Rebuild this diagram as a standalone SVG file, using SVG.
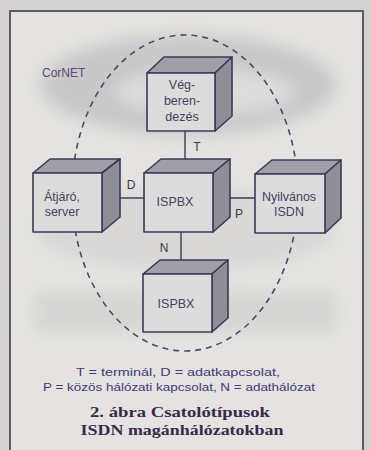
<svg xmlns="http://www.w3.org/2000/svg" width="371" height="450" viewBox="0 0 371 450">
<defs>
<style>
.front{fill:#dddcdc;stroke:#3c3a58;stroke-width:1.6;stroke-linejoin:round}
.top{fill:#a09ea6;stroke:#3c3a58;stroke-width:1.6;stroke-linejoin:round}
.side{fill:#8f8d96;stroke:#3c3a58;stroke-width:1.6;stroke-linejoin:round}
.lbl{font-family:"Liberation Sans",Arial,sans-serif;font-size:12.5px;fill:#47425e;text-anchor:middle}
.conn{stroke:#3c3a50;stroke-width:1.4;fill:none}
.cl{font-family:"Liberation Sans",Arial,sans-serif;font-size:12px;fill:#3a3848;text-anchor:middle}
.cap{font-family:"Liberation Sans",Arial,sans-serif;font-size:11px;fill:#43387a;text-anchor:middle}
.ttl{font-family:"Liberation Serif","Times New Roman",serif;font-size:15px;font-weight:bold;fill:#3a2a48;text-anchor:middle}
</style>
<filter id="soft" x="-20%" y="-40%" width="140%" height="180%">
<feGaussianBlur stdDeviation="8"/>
</filter>
</defs>
<rect x="0" y="0" width="371" height="450" fill="#d3d2d1"/>
<rect x="10" y="11" width="353" height="439" fill="#e4e3e1"/>
<g id="background-shading" filter="url(#soft)">
<ellipse cx="188" cy="85" rx="148" ry="50" fill="#c9c8c8"/>
<ellipse cx="205" cy="92" rx="90" ry="22" fill="#dedddc"/>
<rect x="35" y="292" width="300" height="40" fill="#d6d5d4"/>
<ellipse cx="185" cy="230" rx="150" ry="40" fill="#d9d8d7"/>
</g>
<g id="frame" fill="none" stroke="#5d5c66" stroke-width="2">
<path d="M10 450 V11 H363 V450"/>
</g>
<ellipse id="cornet-boundary" cx="185" cy="193" rx="113" ry="158" fill="none" stroke="#4a4866" stroke-width="1.6" stroke-dasharray="6,5"/>
<text id="cornet-label" x="42" y="77" font-family="'Liberation Sans',Arial,sans-serif" font-size="12" fill="#5b4a7a">CorNET</text>
<g id="connectors">
<line class="conn" x1="185" y1="131" x2="185" y2="167"/>
<text class="cl" x="197" y="151">T</text>
<line class="conn" x1="112" y1="198" x2="144" y2="198"/>
<text class="cl" x="131" y="189">D</text>
<line class="conn" x1="221" y1="198" x2="255" y2="198"/>
<text class="cl" x="239" y="218">P</text>
<line class="conn" x1="181" y1="232" x2="181" y2="268"/>
<text class="cl" x="164" y="252">N</text>
</g>
<g id="node-vegberendezes">
<polygon class="top" points="147,73 164,57 232,57 215,73"/>
<polygon class="side" points="215,73 232,57 232,116 215,131"/>
<rect class="front" x="147" y="73" width="68" height="58"/>
<text class="lbl" x="182" y="89">Vég-</text>
<text class="lbl" x="182" y="105">beren-</text>
<text class="lbl" x="182" y="121">dezés</text>
</g>
<g id="node-atjaro">
<polygon class="top" points="33,173 50,159 120,159 102,173"/>
<polygon class="side" points="102,173 120,159 120,217 102,232"/>
<rect class="front" x="33" y="173" width="69" height="59"/>
<text class="lbl" x="62" y="201">Átjáró,</text>
<text class="lbl" x="62" y="216">server</text>
</g>
<g id="node-ispbx">
<polygon class="top" points="144,173 161,159 230,159 213,173"/>
<polygon class="side" points="213,173 230,159 230,217 213,232"/>
<rect class="front" x="144" y="173" width="69" height="59"/>
<text class="lbl" x="175" y="206">ISPBX</text>
</g>
<g id="node-nyilvanos-isdn">
<polygon class="top" points="255,174 272,160 341,160 325,174"/>
<polygon class="side" points="325,174 341,160 341,218 325,233"/>
<rect class="front" x="255" y="174" width="70" height="59"/>
<text class="lbl" x="289" y="201">Nyilvános</text>
<text class="lbl" x="289" y="216">ISDN</text>
</g>
<g id="node-ispbx-2">
<polygon class="top" points="143,274 160,260 228,260 212,274"/>
<polygon class="side" points="212,274 228,260 228,318 212,332"/>
<rect class="front" x="143" y="274" width="69" height="58"/>
<text class="lbl" x="176" y="308">ISPBX</text>
</g>
<g id="caption">
<text class="cap" x="178" y="376" textLength="204" lengthAdjust="spacingAndGlyphs">T = terminál,  D = adatkapcsolat,</text>
<text class="cap" x="179" y="391" textLength="272" lengthAdjust="spacingAndGlyphs">P = közös hálózati kapcsolat,  N = adathálózat</text>
<text class="ttl" x="180" y="417" textLength="180" lengthAdjust="spacingAndGlyphs">2. ábra  Csatolótípusok</text>
<text class="ttl" x="182" y="435" textLength="203" lengthAdjust="spacingAndGlyphs">ISDN magánhálózatokban</text>
</g>
</svg>
